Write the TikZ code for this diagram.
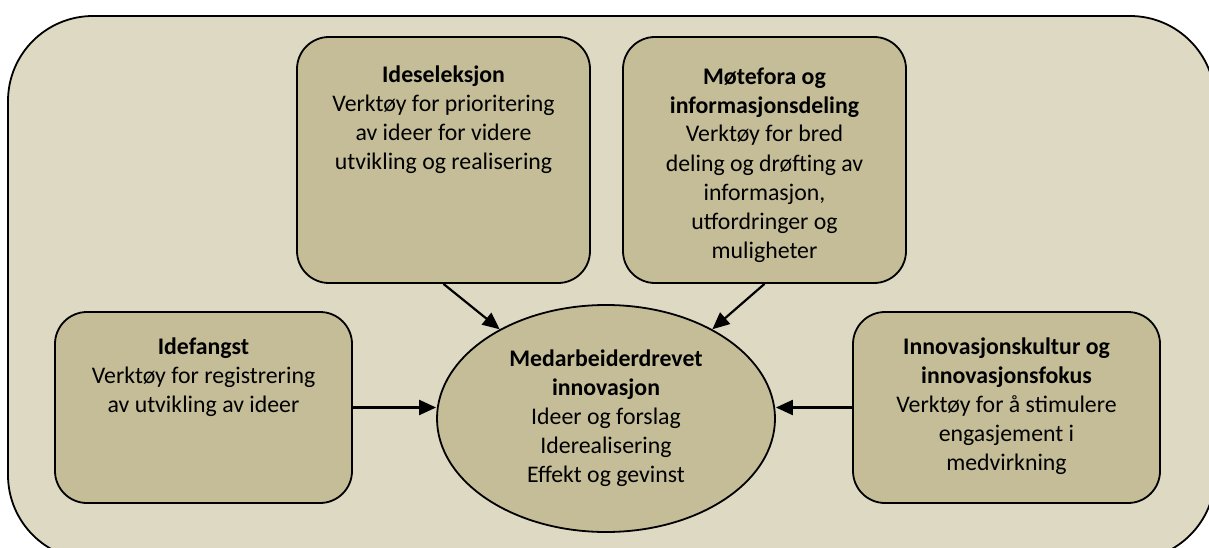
\documentclass[tikz,border=0pt]{standalone}
\usepackage{fontspec}
\setmainfont{Carlito}
\usetikzlibrary{shapes.geometric}
\usetikzlibrary{arrows.meta}
\definecolor{bgtan}{RGB}{221,217,195}
\definecolor{boxtan}{RGB}{196,189,151}
\tikzset{
    toolbox/.style={draw, line width=1.8pt, fill=boxtan, rounded corners=32pt, inner sep=0pt},
    tooltext/.style={anchor=base, align=center, inner sep=0pt, font=\fontsize{23.8}{29}\selectfont},
    feed/.style={line width=2.2pt, -{Triangle[length=17pt,width=15pt]}}
}
\begin{document}
\begin{tikzpicture}[x=1pt,y=-1pt]
            \useasboundingbox (0,0) rectangle (1209,548);
            \clip (0,0) rectangle (1209,548);
            \draw[fill=bgtan, line width=1.8pt, rounded corners=85pt] (8,16) rectangle (1215,560);

            \node[toolbox, minimum width=293pt, minimum height=246pt] (selbox) at (443.5,160) {};
            \node[toolbox, minimum width=283pt, minimum height=246pt] (motebox) at (764.5,160) {};
            \node[toolbox, minimum width=297pt, minimum height=191pt] (fangbox) at (203.5,407.5) {};
            \node[toolbox, minimum width=307pt, minimum height=191pt] (kulturbox) at (1006.5,407.5) {};

            \node[tooltext] (seltxt) at (443.5,170) {\textbf{Ideseleksjon}\\Verktøy for prioritering\\av ideer for videre\\utvikling og realisering};
            \node[tooltext] (motetxt) at (764.5,258) {\textbf{Møtefora og}\\\textbf{informasjonsdeling}\\Verktøy for bred\\deling og drøfting av\\informasjon,\\utfordringer og\\muligheter};
            \node[tooltext] (fangtxt) at (203.5,412) {\textbf{Idefangst}\\Verktøy for registrering\\av utvikling av ideer};
            \node[tooltext] (kulturtxt) at (1006.5,470) {\textbf{Innovasjonskultur og}\\\textbf{innovasjonsfokus}\\Verktøy for å stimulere\\engasjement i\\medvirkning};

            \node[ellipse, draw, line width=1.8pt, fill=boxtan, inner sep=0pt,
                  minimum width=338pt, minimum height=227pt, align=center,
                  font=\fontsize{23.8}{29}\selectfont] (ell) at (606,418.5)
                {\textbf{Medarbeiderdrevet}\\\textbf{innovasjon}\\Ideer og forslag\\Iderealisering\\Effekt og gevinst};

            \draw[feed] (selbox.south) -- (ell.140);
            \draw[feed] (motebox.south) -- (ell.40);
            \draw[feed] (fangbox.east) -- (fangbox.east -| ell.west);
            \draw[feed] (kulturbox.west) -- (kulturbox.west -| ell.east);
\end{tikzpicture}
\end{document}
